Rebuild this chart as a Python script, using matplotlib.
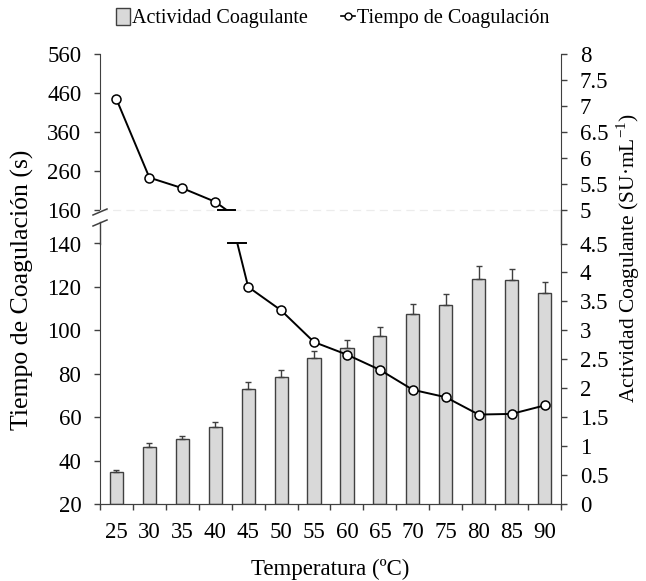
import numpy as np
import matplotlib
matplotlib.use("Agg")
import matplotlib.pyplot as plt
from matplotlib.patches import Patch
from matplotlib.lines import Line2D

plt.rcParams['font.family'] = ['Liberation Serif', 'DejaVu Serif']
plt.rcParams['mathtext.fontset'] = 'custom'
plt.rcParams['mathtext.rm'] = 'Liberation Serif'

# data
temperatura = [25, 30, 35, 40, 45, 50, 55, 60, 65, 70, 75, 80, 85, 90]
actividad = [0.55, 0.99, 1.12, 1.33, 1.99, 2.19, 2.52, 2.69, 2.91, 3.28, 3.44, 3.89, 3.87, 3.65]
actividad_err = [0.03, 0.06, 0.06, 0.08, 0.11, 0.12, 0.13, 0.14, 0.15, 0.18, 0.18, 0.22, 0.19, 0.18]
tiempo = [444, 243, 216, 181, 120, 109.2, 94.6, 88.8, 81.8, 72.6, 69.2, 61.2, 61.5, 65.4]

left_top_ticks = [160, 260, 360, 460, 560]
left_bot_ticks = [20, 40, 60, 80, 100, 120, 140]
right_top_ticks = [5, 5.5, 6, 6.5, 7, 7.5, 8]
right_bot_ticks = [0, 0.5, 1, 1.5, 2, 2.5, 3, 3.5, 4, 4.5]

FS = 16.5
W, H = 646, 581
bar_face = '#d9d9d9'
bar_edge = '#404040'

fig = plt.figure(figsize=(W / 100, H / 100), dpi=100)

x0, x1 = 100 / W, 561 / W
top_y0, top_y1 = 1 - 210 / H, 1 - 54 / H
bot_y0, bot_y1 = 1 - 504 / H, 1 - 243.5 / H

ax_t = fig.add_axes([x0, top_y0, x1 - x0, top_y1 - top_y0])
ax_b = fig.add_axes([x0, bot_y0, x1 - x0, bot_y1 - bot_y0])
ax_t2 = ax_t.twinx()
ax_b2 = ax_b.twinx()

x = np.arange(len(temperatura))

# bars on the right (lower) axis
ax_b2.bar(x, actividad, width=0.4, color=bar_face, edgecolor=bar_edge, linewidth=1, zorder=1)
ax_b2.errorbar(x, actividad, yerr=[np.zeros(len(x)), actividad_err], fmt='none',
               ecolor=bar_edge, elinewidth=1, capsize=2.5, capthick=1, zorder=2)

# line on both left axes (clipped at the break)
for ax in (ax_t, ax_b):
    ax.plot(x, tiempo, color='black', lw=1.4, marker='o', markersize=6.5,
            markerfacecolor='white', markeredgecolor='black', markeredgewidth=1.1, zorder=5)
# left axes above twins
for ax, tw in ((ax_t, ax_t2), (ax_b, ax_b2)):
    ax.set_zorder(tw.get_zorder() + 1)
    ax.patch.set_visible(False)

ax_t.set_ylim(160, 560)
ax_b.set_ylim(20, 140)
ax_t2.set_ylim(5, 8)
ax_b2.set_ylim(0, 4.5)

# break caps where the line leaves/enters each panel
t = np.array(tiempo, dtype=float)
for ax, level in ((ax_t, 160), (ax_b, 140)):
    i = np.where((t[:-1] > level) & (t[1:] <= level))[0][0]
    xc = x[i] + (t[i] - level) / (t[i] - t[i + 1])
    ax.plot([xc - 0.27, xc + 0.27], [level, level], color='black', lw=1.4,
            clip_on=False, zorder=6)

for ax in (ax_t, ax_b, ax_t2, ax_b2):
    ax.set_xlim(-0.5, len(x) - 0.5)
    ax.spines['top'].set_visible(False)
    ax.spines['left'].set_color('#404040')
    ax.spines['right'].set_color('#404040')
    ax.spines['bottom'].set_color('#404040')
    ax.tick_params(axis='y', direction='out', length=4.5, width=1, color='#404040',
                   labelsize=FS, pad=9)

ax_t.spines['right'].set_visible(False)
ax_b.spines['right'].set_visible(False)
ax_t2.spines['left'].set_visible(False)
ax_b2.spines['left'].set_visible(False)

ax_t.set_yticks(left_top_ticks)
ax_b.set_yticks(left_bot_ticks)
ax_t2.set_yticks(right_top_ticks)
ax_b2.set_yticks(right_bot_ticks)
ax_t2.set_yticklabels([f"{v:g}" for v in right_top_ticks])
ax_b2.set_yticklabels([f"{v:g}" for v in right_bot_ticks])

# top panel: faint dashed bottom, no x ticks
for ax in (ax_t, ax_t2):
    ax.spines['bottom'].set_color('#ececec')
    ax.spines['bottom'].set_linestyle((0, (6, 6)))
    ax.tick_params(axis='x', bottom=False, labelbottom=False)

# bottom panel x axis: labels at centers, ticks at boundaries
ax_b2.tick_params(axis='x', bottom=False, labelbottom=False)
ax_b.set_xticks(x)
ax_b.set_xticklabels([str(v) for v in temperatura])
ax_b.set_xticks(np.arange(-0.5, len(x)), minor=True)
ax_b.tick_params(axis='x', which='major', length=0, labelsize=FS, pad=13)
ax_b.tick_params(axis='x', which='minor', direction='out', length=4.5, width=1, color='#404040')

# spine pieces across the gap
fig.add_artist(Line2D([x1, x1], [top_y0, bot_y1], transform=fig.transFigure,
                      color='#404040', lw=1))
fig.add_artist(Line2D([x0, x0], [bot_y1, 1 - 222 / H], transform=fig.transFigure,
                      color='#404040', lw=1))
for yb in (212, 223):
    fig.add_artist(Line2D([x0 - 7 / W, x0 + 7 / W], [1 - (yb + 3) / H, 1 - (yb - 3) / H],
                          transform=fig.transFigure, color='#404040', lw=1.1))

fig.text(330 / W, 1 - 569 / H, 'Temperatura (ºC)', ha='center', va='center', fontsize=16.5)
fig.text(22 / W, 1 - 290 / H, 'Tiempo de Coagulación (s)', rotation=90,
         ha='center', va='center', fontsize=18.5)
fig.text(628 / W, 1 - 258 / H, 'Actividad Coagulante (SU·mL$^{\\mathrm{-1}}$)', rotation=90,
         ha='center', va='center', fontsize=15.5)

handles = [Patch(facecolor=bar_face, edgecolor=bar_edge, linewidth=1),
           Line2D([], [], color='black', lw=1.2, marker='o', markersize=5,
                  markerfacecolor='white', markeredgecolor='black')]
fig.legend(handles, ['Actividad Coagulante', 'Tiempo de Coagulación'],
           loc='center', bbox_to_anchor=(333 / W, 1 - 18 / H), ncol=2, frameon=False,
           fontsize=14.5, handlelength=0.7, handletextpad=0.1, columnspacing=1.65,
           handleheight=0.9)

fig.savefig('out.png', dpi=100)
